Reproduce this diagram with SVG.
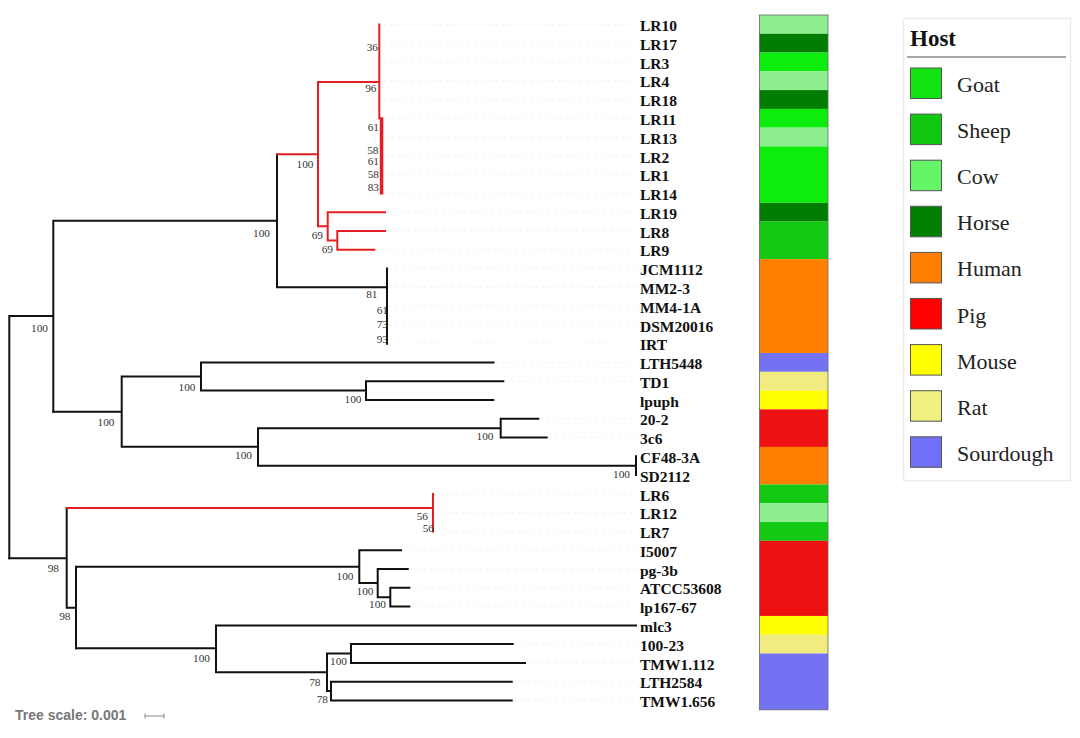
<svg xmlns="http://www.w3.org/2000/svg" width="1080" height="738" viewBox="0 0 1080 738">
<style>
.b{fill:none;stroke:#111;stroke-width:2;stroke-linecap:square}
.r{fill:none;stroke:#e41e22;stroke-width:2;stroke-linecap:square}
.g{fill:none;stroke:#f2f2f2;stroke-width:1;stroke-dasharray:3 4}
.bs{font-family:"Liberation Serif",serif;font-size:11.3px;fill:#333;text-anchor:end}
.lf{font-family:"Liberation Serif",serif;font-size:15.5px;font-weight:bold;fill:#111}
.lg{font-family:"Liberation Serif",serif;font-size:22px;fill:#222}
.sw{stroke:#555;stroke-width:1}
</style>
<rect width="1080" height="738" fill="#fff"/>
<g id="guides" class="g">
<path d="M383,24.4H636M383,43.2H636M383,62H636M383,80.7H636M383,99.5H636M384,118.3H636M384,137.1H636M384,155.9H636M384,174.6H636M384,193.4H636M386,212.2H636M386,231H636M375,249.8H636M388,268.5H636M388,287.3H636M388,306.1H636M388,324.9H636M388,343.7H636M495,362.4H636M504,381.2H636M494,400H636M539,418.8H636M548,437.6H636M434,493.9H636M434,512.7H636M434,531.5H636M402,550.2H636M409,569H636M410,587.8H636M410,606.6H636M514,644.1H636M526,662.9H636M513,681.7H636M513,700.5H636"/>
</g>
<g id="connectors">
<path class="b" d="M9.3,315.9V558.3M9.3,315.9H53.3M53.3,220.8V411.7M53.3,220.8H277M277,154.2V287.3M277,287.3H387M387,268.5V343.7"/>
<path class="b" d="M53.3,411.7H121.7M121.7,376.5V446.7M121.7,376.5H201M201,362.4V390.6M201,362.4H493.5M201,390.6H366M366,381.2V400M366,381.2H503.3M366,400H493.3M121.7,446.7H258M258,428.2V465.7M258,428.2H500.7M500.7,418.8V437.6M500.7,418.8H538.3M500.7,437.6H546.7M258,465.7H636M636,456.3V475.1"/>
<path class="b" d="M9.3,558.3H66.7M66.7,508V607.7M66.7,607.7H76M76,566.7V648.3M76,566.7H359.3M359.3,550.2V583.1M359.3,550.2H401M359.3,583.1H377.7M377.7,569V597.2M377.7,569H407.7M377.7,597.2H390.3M390.3,587.8V606.6M390.3,587.8H409.3M390.3,606.6H409.3"/>
<path class="b" d="M76,648.3H216M216,625.4V672.3M216,625.4H636M216,672.3H327M327,653.5V691.1M327,653.5H351M351,644.1V662.9M351,644.1H512.7M351,662.9H525M327,691.1H331M331,681.7V700.5M331,681.7H511.7M331,700.5H511.7"/>
<path class="r" d="M277,154.2H318M318,82V226.3M318,82H379.3M379.3,24.4V118.3M380.8,118.3V193.4M382.3,118.3V193.4M318,226.3H327.7M327.7,212.2V240.4M327.7,212.2H385M327.7,240.4H337.3M337.3,231V249.8M337.3,231H385M337.3,249.8H374.3"/>
<path class="r" d="M66.7,508H433M433,493.9V531.5"/>
</g>
<g id="bootstrap">
<text class="bs" x="378" y="51">36</text>
<text class="bs" x="376.5" y="92">96</text>
<text class="bs" x="379" y="131">61</text>
<text class="bs" x="378.5" y="154">58</text>
<text class="bs" x="379" y="164.5">61</text>
<text class="bs" x="379" y="178">58</text>
<text class="bs" x="379" y="191">83</text>
<text class="bs" x="313.5" y="168">100</text>
<text class="bs" x="323" y="239">69</text>
<text class="bs" x="333" y="253">69</text>
<text class="bs" x="270" y="237">100</text>
<text class="bs" x="377.5" y="298">81</text>
<text class="bs" x="388" y="314">61</text>
<text class="bs" x="388" y="327.5">73</text>
<text class="bs" x="388" y="342.5">93</text>
<text class="bs" x="48" y="332">100</text>
<text class="bs" x="114.5" y="426">100</text>
<text class="bs" x="195.5" y="391">100</text>
<text class="bs" x="361.5" y="403">100</text>
<text class="bs" x="252" y="459">100</text>
<text class="bs" x="493.5" y="440">100</text>
<text class="bs" x="630" y="478">100</text>
<text class="bs" x="59" y="572">98</text>
<text class="bs" x="70.5" y="620">98</text>
<text class="bs" x="428" y="520">56</text>
<text class="bs" x="434" y="532">56</text>
<text class="bs" x="353.5" y="580">100</text>
<text class="bs" x="373.5" y="595">100</text>
<text class="bs" x="386" y="608">100</text>
<text class="bs" x="210" y="662">100</text>
<text class="bs" x="347" y="665">100</text>
<text class="bs" x="320.5" y="686">78</text>
<text class="bs" x="328" y="703">78</text>
</g>
<g id="strip">
<rect x="759.5" y="15" width="68.5" height="18.78" fill="#8cee8c"/>
<rect x="759.5" y="33.78" width="68.5" height="18.78" fill="#007c00"/>
<rect x="759.5" y="52.56" width="68.5" height="18.78" fill="#0ded0d"/>
<rect x="759.5" y="71.34" width="68.5" height="18.78" fill="#8cee8c"/>
<rect x="759.5" y="90.12" width="68.5" height="18.78" fill="#007c00"/>
<rect x="759.5" y="108.9" width="68.5" height="18.78" fill="#0ded0d"/>
<rect x="759.5" y="127.68" width="68.5" height="18.78" fill="#8cee8c"/>
<rect x="759.5" y="146.46" width="68.5" height="56.34" fill="#0ded0d"/>
<rect x="759.5" y="202.8" width="68.5" height="18.78" fill="#007c00"/>
<rect x="759.5" y="221.58" width="68.5" height="37.56" fill="#12c812"/>
<rect x="759.5" y="259.14" width="68.5" height="93.9" fill="#ff8000"/>
<rect x="759.5" y="353.04" width="68.5" height="18.78" fill="#7272f2"/>
<rect x="759.5" y="371.82" width="68.5" height="18.78" fill="#f0ec80"/>
<rect x="759.5" y="390.6" width="68.5" height="18.78" fill="#ffff00"/>
<rect x="759.5" y="409.38" width="68.5" height="37.56" fill="#ee1111"/>
<rect x="759.5" y="446.94" width="68.5" height="37.56" fill="#ff8000"/>
<rect x="759.5" y="484.5" width="68.5" height="18.78" fill="#12c812"/>
<rect x="759.5" y="503.28" width="68.5" height="18.78" fill="#8cee8c"/>
<rect x="759.5" y="522.06" width="68.5" height="18.78" fill="#12c812"/>
<rect x="759.5" y="540.84" width="68.5" height="75.12" fill="#ee1111"/>
<rect x="759.5" y="615.96" width="68.5" height="18.78" fill="#ffff00"/>
<rect x="759.5" y="634.74" width="68.5" height="18.78" fill="#f0ec80"/>
<rect x="759.5" y="653.52" width="68.5" height="56.34" fill="#7272f2"/>
<rect x="759.5" y="15" width="68.5" height="694.86" fill="none" stroke="#666" stroke-width="0.8"/>
</g>
<g id="leaves">
<g id="leaf-LR10"><text class="lf" x="640" y="31">LR10</text></g>
<g id="leaf-LR17"><text class="lf" x="640" y="49.8">LR17</text></g>
<g id="leaf-LR3"><text class="lf" x="640" y="68.6">LR3</text></g>
<g id="leaf-LR4"><text class="lf" x="640" y="87.3">LR4</text></g>
<g id="leaf-LR18"><text class="lf" x="640" y="106.1">LR18</text></g>
<g id="leaf-LR11"><text class="lf" x="640" y="124.9">LR11</text></g>
<g id="leaf-LR13"><text class="lf" x="640" y="143.7">LR13</text></g>
<g id="leaf-LR2"><text class="lf" x="640" y="162.5">LR2</text></g>
<g id="leaf-LR1"><text class="lf" x="640" y="181.2">LR1</text></g>
<g id="leaf-LR14"><text class="lf" x="640" y="200">LR14</text></g>
<g id="leaf-LR19"><text class="lf" x="640" y="218.8">LR19</text></g>
<g id="leaf-LR8"><text class="lf" x="640" y="237.6">LR8</text></g>
<g id="leaf-LR9"><text class="lf" x="640" y="256.4">LR9</text></g>
<g id="leaf-JCM1112"><text class="lf" x="640" y="275.1">JCM1112</text></g>
<g id="leaf-MM2-3"><text class="lf" x="640" y="293.9">MM2-3</text></g>
<g id="leaf-MM4-1A"><text class="lf" x="640" y="312.7">MM4-1A</text></g>
<g id="leaf-DSM20016"><text class="lf" x="640" y="331.5">DSM20016</text></g>
<g id="leaf-IRT"><text class="lf" x="640" y="350.3">IRT</text></g>
<g id="leaf-LTH5448"><text class="lf" x="640" y="369">LTH5448</text></g>
<g id="leaf-TD1"><text class="lf" x="640" y="387.8">TD1</text></g>
<g id="leaf-lpuph"><text class="lf" x="640" y="406.6">lpuph</text></g>
<g id="leaf-20-2"><text class="lf" x="640" y="425.4">20-2</text></g>
<g id="leaf-3c6"><text class="lf" x="640" y="444.2">3c6</text></g>
<g id="leaf-CF48-3A"><text class="lf" x="640" y="462.9">CF48-3A</text></g>
<g id="leaf-SD2112"><text class="lf" x="640" y="481.7">SD2112</text></g>
<g id="leaf-LR6"><text class="lf" x="640" y="500.5">LR6</text></g>
<g id="leaf-LR12"><text class="lf" x="640" y="519.3">LR12</text></g>
<g id="leaf-LR7"><text class="lf" x="640" y="538.1">LR7</text></g>
<g id="leaf-I5007"><text class="lf" x="640" y="556.8">I5007</text></g>
<g id="leaf-pg-3b"><text class="lf" x="640" y="575.6">pg-3b</text></g>
<g id="leaf-ATCC53608"><text class="lf" x="640" y="594.4">ATCC53608</text></g>
<g id="leaf-lp167-67"><text class="lf" x="640" y="613.2">lp167-67</text></g>
<g id="leaf-mlc3"><text class="lf" x="640" y="632">mlc3</text></g>
<g id="leaf-100-23"><text class="lf" x="640" y="650.7">100-23</text></g>
<g id="leaf-TMW1.112"><text class="lf" x="640" y="669.5">TMW1.112</text></g>
<g id="leaf-LTH2584"><text class="lf" x="640" y="688.3">LTH2584</text></g>
<g id="leaf-TMW1.656"><text class="lf" x="640" y="707.1">TMW1.656</text></g>
</g>
<g id="legend">
<rect x="903.5" y="18.5" width="167" height="462" fill="#fff" stroke="#ececec" stroke-width="1.5"/>
<text x="910" y="46" font-family="Liberation Serif, serif" font-size="23px" font-weight="bold" fill="#111">Host</text>
<line x1="907" y1="57" x2="1066" y2="57" stroke="#888" stroke-width="1.5"/>
<rect class="sw" x="910.5" y="68" width="31" height="30.5" fill="#11e311"/><text class="lg" x="957" y="92">Goat</text>
<rect class="sw" x="910.5" y="114.1" width="31" height="30.5" fill="#11c811"/><text class="lg" x="957" y="138.1">Sheep</text>
<rect class="sw" x="910.5" y="160.2" width="31" height="30.5" fill="#66f566"/><text class="lg" x="957" y="184.2">Cow</text>
<rect class="sw" x="910.5" y="206.3" width="31" height="30.5" fill="#007f00"/><text class="lg" x="957" y="230.3">Horse</text>
<rect class="sw" x="910.5" y="252.4" width="31" height="30.5" fill="#ff8000"/><text class="lg" x="957" y="276.4">Human</text>
<rect class="sw" x="910.5" y="298.5" width="31" height="30.5" fill="#ff0000"/><text class="lg" x="957" y="322.5">Pig</text>
<rect class="sw" x="910.5" y="344.6" width="31" height="30.5" fill="#ffff00"/><text class="lg" x="957" y="368.6">Mouse</text>
<rect class="sw" x="910.5" y="390.7" width="31" height="30.5" fill="#f0f080"/><text class="lg" x="957" y="414.7">Rat</text>
<rect class="sw" x="910.5" y="436.8" width="31" height="30.5" fill="#7070f8"/><text class="lg" x="957" y="460.8">Sourdough</text>
</g>
<g id="scale">
<text x="15" y="720" font-family="Liberation Sans, sans-serif" font-size="14px" font-weight="bold" fill="#777">Tree scale: 0.001</text>
<path d="M145,716H164M145,713.5V718.5M164,713.5V718.5" fill="none" stroke="#888" stroke-width="1"/>
</g>
</svg>
